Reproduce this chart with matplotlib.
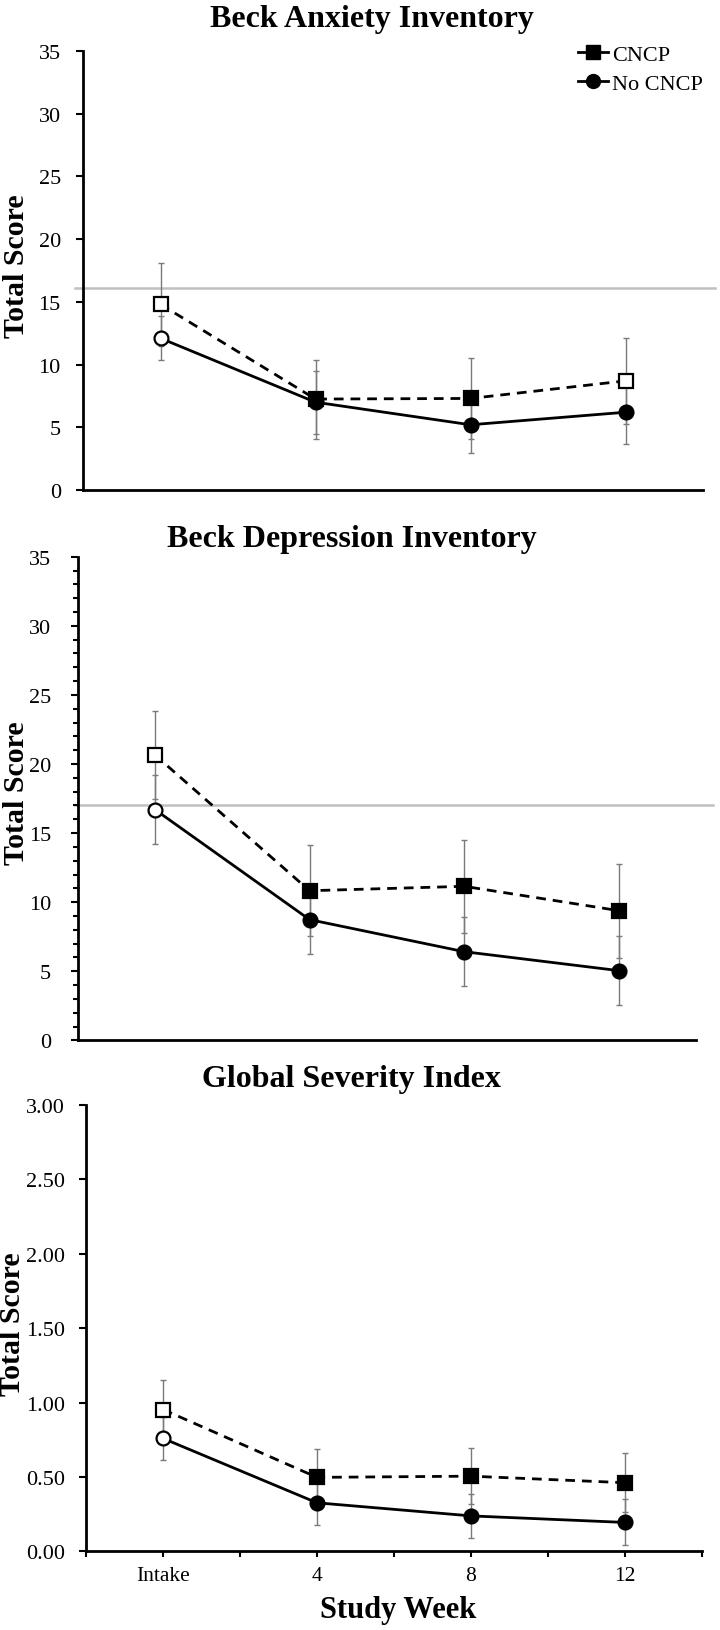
import matplotlib
matplotlib.use("Agg")
import matplotlib.pyplot as plt
from matplotlib.lines import Line2D
from matplotlib.ticker import MultipleLocator, FormatStrFormatter
import numpy as np

plt.rcParams['font.family'] = ['Liberation Serif', 'DejaVu Serif']

# ---------------- data ----------------
weeks = ["Intake", "4", "8", "12"]
series_labels = ["CNCP", "No CNCP"]

bai_cncp = [14.8, 7.25, 7.3, 8.7]
bai_cncp_err = [3.3, 3.15, 3.25, 3.4]
bai_cncp_open = [True, False, False, True]
bai_no = [12.1, 7.0, 5.2, 6.2]
bai_no_err = [1.75, 2.5, 2.25, 2.5]
bai_no_open = [True, False, False, False]
bai_cutoff = 16.1

bdi_cncp = [20.65, 10.83, 11.15, 9.39]
bdi_cncp_err = [3.2, 3.3, 3.35, 3.4]
bdi_cncp_open = [True, False, False, False]
bdi_no = [16.7, 8.74, 6.42, 5.05]
bdi_no_err = [2.5, 2.5, 2.5, 2.5]
bdi_no_open = [True, False, False, False]
bdi_cutoff = 17.0

gsi_cncp = [0.953, 0.497, 0.505, 0.461]
gsi_cncp_err = [0.197, 0.19, 0.19, 0.2]
gsi_cncp_open = [True, False, False, False]
gsi_no = [0.759, 0.326, 0.238, 0.194]
gsi_no_err = [0.145, 0.15, 0.15, 0.155]
gsi_no_open = [True, False, False, False]

titles = ["Beck Anxiety Inventory", "Beck Depression Inventory", "Global Severity Index"]

# ---------------- figure ----------------
W, H = 720, 1631
fig = plt.figure(figsize=(W / 100, H / 100), dpi=100)

def rect(left, right, top, bottom):
    return [left / W, 1 - bottom / H, (right - left) / W, (bottom - top) / H]

x = np.arange(len(weeks)) + 0.5
DASH = (0, (3.5, 2.5))


def draw(ax, c, ce, co, n, ne, no):
    ax.errorbar(x, c, yerr=ce, fmt='none', ecolor='#7a7a7a', elinewidth=1,
                capsize=2, capthick=1, zorder=2)
    ax.errorbar(x, n, yerr=ne, fmt='none', ecolor='#7a7a7a', elinewidth=1,
                capsize=2, capthick=1, zorder=2)
    ax.plot(x, c, color='black', lw=2, ls=DASH, zorder=3)
    ax.plot(x, n, color='black', lw=2, ls='-', zorder=3)
    for vals, opens, mk in ((c, co, 's'), (n, no, 'o')):
        for xi, v, op in zip(x, vals, opens):
            ax.plot([xi], [v], marker=mk, ms=10, mfc='white' if op else 'black',
                    mec='black', mew=1.6, ls='none', zorder=4)


def style(ax, pad):
    for s in ('top', 'right'):
        ax.spines[s].set_visible(False)
    for s in ('left', 'bottom'):
        ax.spines[s].set_linewidth(2)
    ax.set_xlim(0, 4)
    ax.tick_params(axis='y', which='major', direction='out', length=5, width=1.5,
                   pad=pad, labelsize=16)


# Panel 1
ax1 = fig.add_axes(rect(83, 703, 52, 491))
draw(ax1, bai_cncp, bai_cncp_err, bai_cncp_open, bai_no, bai_no_err, bai_no_open)
style(ax1, 11)
ax1.set_ylim(0, 35)
ax1.set_yticks(np.arange(0, 36, 5))
ax1.set_xticks([])
ax1.axhline(bai_cutoff, xmin=-0.013, xmax=1.019, color='#c0c0c0', lw=1.8,
            clip_on=False, zorder=1)

# Panel 2
ax2 = fig.add_axes(rect(77.7, 696, 557.7, 1041.4))
draw(ax2, bdi_cncp, bdi_cncp_err, bdi_cncp_open, bdi_no, bdi_no_err, bdi_no_open)
style(ax2, 14)
ax2.set_ylim(0, 35)
ax2.set_yticks(np.arange(0, 36, 5))
ax2.yaxis.set_minor_locator(MultipleLocator(1))
ax2.tick_params(axis='y', which='minor', direction='out', length=3.5, width=1.5)
ax2.set_xticks([])
ax2.axhline(bdi_cutoff, xmin=-0.004, xmax=1.027, color='#c0c0c0', lw=1.8,
            clip_on=False, zorder=1)

# Panel 3
ax3 = fig.add_axes(rect(86, 702, 1106, 1552.3))
draw(ax3, gsi_cncp, gsi_cncp_err, gsi_cncp_open, gsi_no, gsi_no_err, gsi_no_open)
style(ax3, 10)
ax3.set_ylim(0, 3)
ax3.set_yticks(np.arange(0, 3.01, 0.5))
ax3.yaxis.set_major_formatter(FormatStrFormatter('%.2f'))
xt = np.arange(0, 4.01, 0.5)
xl = []
for t in xt:
    idx = int(t - 0.5) if (t % 1) == 0.5 else None
    xl.append(weeks[idx] if idx is not None else "")
ax3.set_xticks(xt)
ax3.set_xticklabels(xl)
ax3.tick_params(axis='x', direction='out', length=4.5, width=1.5, pad=6, labelsize=15.5)

# Titles
fig.text(372 / W, 1 - 27 / H, titles[0], ha='center', va='baseline', fontsize=23, fontweight='bold')
fig.text(352 / W, 1 - 547 / H, titles[1], ha='center', va='baseline', fontsize=23, fontweight='bold')
fig.text(351 / W, 1 - 1087 / H, titles[2], ha='center', va='baseline', fontsize=23, fontweight='bold')

# Y labels
for xc, yc in ((17, 266.5), (17, 793.5), (13, 1324)):
    fig.text(xc / W, 1 - yc / H, "Total Score", rotation=90, ha='center', va='center',
             fontsize=21.5, fontweight='bold')

fig.text(398 / W, 1 - 1618 / H, "Study Week", ha='center', va='baseline', fontsize=22,
         fontweight='bold')

# Legend
handles = [Line2D([], [], color='black', lw=2, marker='s', ms=10),
           Line2D([], [], color='black', lw=2, marker='o', ms=10)]
fig.legend(handles, series_labels, loc='upper left', bbox_to_anchor=(578 / W, 1 - 45 / H),
           frameon=False, fontsize=16, handlelength=1.35, handletextpad=0.2,
           labelspacing=0.4, borderpad=0, borderaxespad=0)

fig.savefig('out.png', dpi=100)
